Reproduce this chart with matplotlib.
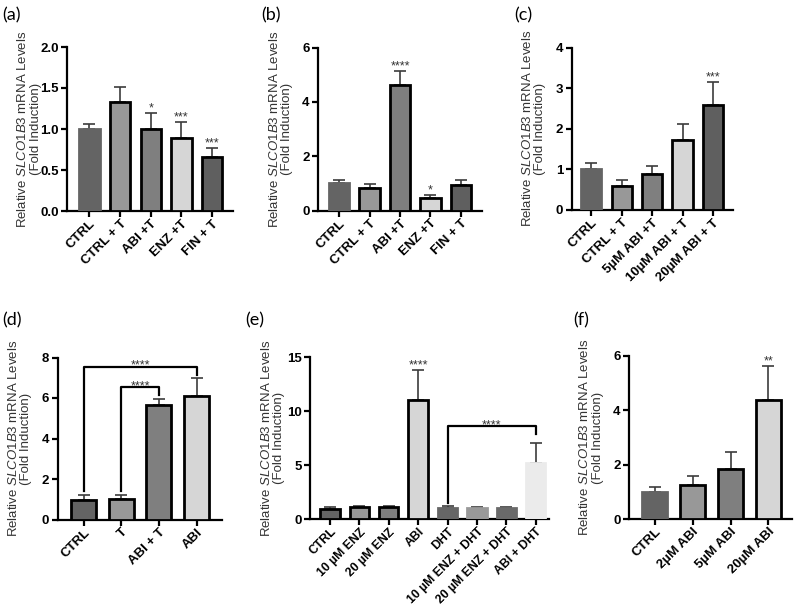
import numpy as np
import matplotlib
matplotlib.use('Agg')
import matplotlib.pyplot as plt

plt.rcParams['font.family'] = ['Liberation Sans', 'DejaVu Sans']
plt.rcParams['mathtext.fontset'] = 'custom'
plt.rcParams['mathtext.rm'] = 'Liberation Sans'
plt.rcParams['mathtext.it'] = 'Liberation Sans:italic'

W, H = 794, 611

# ---- data ----
a_labels = ['CTRL', 'CTRL + T', 'ABI +T', 'ENZ +T', 'FIN + T']
a_mean = [1.0, 1.33, 1.0, 0.89, 0.66]
a_err = [0.06, 0.18, 0.19, 0.19, 0.11]
a_stars = ['', '', '*', '***', '***']

b_labels = ['CTRL', 'CTRL + T', 'ABI +T', 'ENZ +T', 'FIN + T']
b_mean = [1.0, 0.83, 4.62, 0.47, 0.93]
b_err = [0.12, 0.13, 0.52, 0.10, 0.21]
b_stars = ['', '', '****', '*', '']

c_labels = ['CTRL', 'CTRL + T', '5µM ABI +T', '10µM ABI + T', '20µM ABI + T']
c_mean = [1.0, 0.60, 0.89, 1.73, 2.58]
c_err = [0.15, 0.13, 0.20, 0.38, 0.56]
c_stars = ['', '', '', '', '***']

d_labels = ['CTRL', 'T', 'ABI + T', 'ABI']
d_mean = [0.97, 1.02, 5.65, 6.12]
d_err = [0.26, 0.21, 0.32, 0.88]
d_stars = ['', '', '', '']
d_brackets = [(0, 3, 7.55, '****'), (1, 2, 6.55, '****')]

e_labels = ['CTRL', '10 µM ENZ', '20 µM ENZ', 'ABI', 'DHT',
            '10 µM ENZ + DHT', '20 µM ENZ + DHT', 'ABI + DHT']
e_mean = [0.95, 1.07, 1.07, 11.0, 1.0, 1.0, 1.0, 5.15]
e_err = [0.12, 0.16, 0.16, 2.77, 0.18, 0.13, 0.14, 1.85]
e_stars = ['', '', '', '****', '', '', '', '']
e_brackets = [(4, 7, 8.62, '****')]

f_labels = ['CTRL', '2µM ABI', '5µM ABI', '20µM ABI']
f_mean = [1.0, 1.26, 1.85, 4.38]
f_err = [0.16, 0.32, 0.61, 1.24]
f_stars = ['', '', '', '**']

# ---- styles ----
grey5 = ['#646464', '#989898', '#7f7f7f', '#d6d6d6', '#5f5f5f']
edge5 = [False, True, True, True, True]

fig = plt.figure(figsize=(W / 100, H / 100), dpi=100)


def px_box(l, r, t, b):
    return [l / W, 1 - b / H, (r - l) / W, (b - t) / H]


def panel(box, letter, letter_xy, labels, mean, err, stars, colors, black,
          ymax, yticks, xlim, fmt='{:.0f}', brackets=(), xfs=9.5):
    ax = fig.add_axes(px_box(*box))
    x = np.arange(len(mean))
    for i in x:
        ec = 'black' if black[i] else colors[i]
        ax.bar(i, mean[i], width=0.66, color=colors[i], edgecolor=ec,
               linewidth=2.0, zorder=3)
    ax.errorbar(x, mean, yerr=[np.zeros(len(err)), err], fmt='none',
                ecolor='#3c3c3c', elinewidth=1.2, capsize=4, capthick=1.2,
                zorder=2)
    for i, s in enumerate(stars):
        if s:
            ax.annotate(s, (i, mean[i] + err[i]), xytext=(0, 1.3),
                        textcoords='offset points', ha='center',
                        va='baseline', fontsize=9, color='#333333')
    for i0, i1, yb, s in brackets:
        left_bot = mean[i0] + err[i0] + 0.02 * ymax
        right_bot = yb - 0.05 * ymax
        ax.plot([i0, i0, i1, i1], [left_bot, yb, yb, right_bot],
                color='black', lw=1.6, zorder=4, clip_on=False)
        ax.annotate(s, ((i0 + i1) / 2, yb), xytext=(0, -1.5),
                    textcoords='offset points', ha='center',
                    va='baseline', fontsize=9, color='#333333')

    ax.set_xlim(*xlim)
    ax.set_ylim(0, ymax)
    ax.set_yticks(yticks)
    ax.set_yticklabels([fmt.format(v) for v in yticks],
                       fontweight='bold', fontsize=9.5)
    ax.set_xticks(x)
    ax.set_xticklabels(labels, rotation=45, ha='right',
                       rotation_mode='anchor', fontweight='bold',
                       fontsize=xfs)
    for sp in ['top', 'right']:
        ax.spines[sp].set_visible(False)
    for sp in ['left', 'bottom']:
        ax.spines[sp].set_linewidth(1.6)
    ax.tick_params(direction='out', length=4, width=1.6, pad=2)
    ax.tick_params(axis='x', pad=1)

    # y label, two lines, placed in pixels
    l, r, t, b = box
    yc = (t + b) / 2
    fig.text((l - 44) / W, 1 - yc / H,
             'Relative $\\mathit{SLCO1B3}$ mRNA Levels', rotation=90,
             ha='center', va='center', fontsize=9.5, color='#333333')
    fig.text((l - 31) / W, 1 - yc / H, '(Fold Induction)', rotation=90,
             ha='center', va='center', fontsize=9.5, color='#333333')
    fig.text(letter_xy[0] / W, 1 - letter_xy[1] / H, letter,
             fontsize=13, family=['Lato', 'DejaVu Sans'],
             ha='left', va='center')
    return ax


panel((67, 233, 47, 211), '(a)', (2, 15), a_labels, a_mean, a_err, a_stars,
      grey5, edge5, 2.0, [0, 0.5, 1.0, 1.5, 2.0], (-0.73, 4.68),
      fmt='{:.1f}')
panel((318, 482, 47.5, 210.5), '(b)', (261, 15), b_labels, b_mean, b_err,
      b_stars, grey5, edge5, 6, [0, 2, 4, 6], (-0.69, 4.69))
panel((571.5, 733, 47.5, 210), '(c)', (514, 15), c_labels, c_mean, c_err,
      c_stars, grey5, edge5, 4, [0, 1, 2, 3, 4], (-0.65, 4.66))
panel((57.5, 221.5, 357.5, 519.5), '(d)', (2, 320), d_labels, d_mean, d_err,
      d_stars, grey5[:4], [True, True, True, True], 8, [0, 2, 4, 6, 8],
      (-0.69, 3.66), brackets=d_brackets)
panel((310, 549, 357, 519), '(e)', (245, 320), e_labels, e_mean, e_err,
      e_stars,
      ['#646464', '#989898', '#7f7f7f', '#d6d6d6',
       '#666666', '#999999', '#6a6a6a', '#ebebeb'],
      [True, True, True, True, False, False, False, False],
      15, [0, 5, 10, 15], (-0.68, 7.45), brackets=e_brackets, xfs=8.8)
panel((629, 792, 356, 519), '(f)', (573, 320), f_labels, f_mean, f_err,
      f_stars, grey5[:4], [False, True, True, True], 6, [0, 2, 4, 6],
      (-0.68, 3.62))

fig.savefig('out.png', dpi=100)
